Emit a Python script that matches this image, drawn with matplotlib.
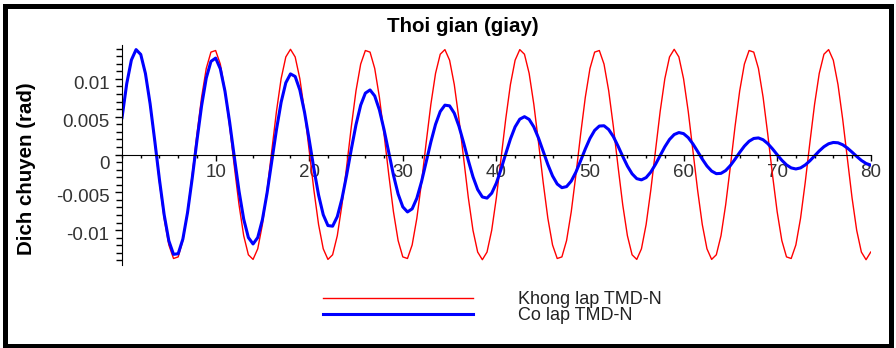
import numpy as np
import matplotlib.pyplot as plt
from matplotlib.patches import Rectangle
from matplotlib.ticker import MultipleLocator
from matplotlib.transforms import ScaledTranslation

plt.rcParams['font.family'] = ['Liberation Sans', 'DejaVu Sans']

# time axis (s), sampled every 0.5 s
time_s = np.arange(0, 80.5, 0.5)

# displacement, in milli-rad
no_tmd = [4.70, 9.25, 12.46, 13.86, 13.25, 10.73, 6.64, 1.60, -3.68, -8.43, -11.95, -13.74, -13.53, -11.37,
          -7.56, -2.65, 2.65, 7.55, 11.37, 13.53, 13.74, 11.95, 8.43, 3.69, -1.59, -6.64, -10.73, -13.25,
          -13.86, -12.46, -9.25, -4.70, 0.53, 5.69, 10.02, 12.89, 13.90, 12.89, 10.01, 5.69, 0.53,
          -4.70, -9.25, -12.46, -13.86, -13.25, -10.73, -6.64, -1.60, 3.68, 8.43, 11.95, 13.74, 13.53, 11.37,
          7.56, 2.65, -2.65, -7.55, -11.37, -13.53, -13.74, -11.95, -8.43, -3.69, 1.59, 6.64, 10.73, 13.25,
          13.86, 12.46, 9.25, 4.70, -0.53, -5.69, -10.02, -12.89, -13.90, -12.89, -10.01, -5.69, -0.53,
          4.70, 9.25, 12.46, 13.86, 13.25, 10.73, 6.64, 1.60, -3.68, -8.43, -11.95, -13.74, -13.53, -11.37,
          -7.56, -2.65, 2.65, 7.55, 11.37, 13.53, 13.74, 11.95, 8.43, 3.69, -1.59, -6.64, -10.73, -13.25,
          -13.86, -12.46, -9.25, -4.70, 0.53, 5.69, 10.02, 12.89, 13.90, 12.89, 10.01, 5.69, 0.53,
          -4.70, -9.25, -12.46, -13.86, -13.25, -10.73, -6.64, -1.60, 3.68, 8.43, 11.95, 13.74, 13.53, 11.37,
          7.56, 2.65, -2.65, -7.55, -11.37, -13.53, -13.74, -11.95, -8.43, -3.69, 1.59, 6.64, 10.73, 13.25,
          13.86, 12.46, 9.25, 4.70, -0.53, -5.69, -10.02, -12.89, -13.90, -12.89]

with_tmd = [4.87, 9.35, 12.49, 13.86, 13.22, 10.70, 6.70, 1.78, -3.34, -7.95, -11.40,
            -13.19, -13.11, -11.17, -7.67, -3.13, 1.80, 6.43, 10.10, 12.30, 12.74,
            11.33, 8.36, 4.26, -0.35, -4.83, -8.54, -10.97, -11.82, -10.97, -8.60,
            -5.07, -0.91, 3.28, 6.91, 9.48, 10.65, 10.31, 8.52, 5.58, 1.94,
            -1.89, -5.35, -7.96, -9.39, -9.47, -8.21, -5.84, -2.71, 0.71, 3.94,
            6.52, 8.11, 8.53, 7.74, 5.89, 3.26, 0.25, -2.71, -5.22, -6.92,
            -7.59, -7.18, -5.78, -3.60, -1.00, 1.66, 3.99, 5.68, 6.52, 6.43,
            5.46, 3.74, 1.55, -0.79, -2.95, -4.63, -5.61, -5.76, -5.11, -3.77,
            -1.93, 0.10, 2.05, 3.65, 4.67, 5.00, 4.64, 3.65, 2.17, 0.43,
            -1.32, -2.83, -3.90, -4.38, -4.24, -3.51, -2.32, -0.83, 0.73, 2.13,
            3.19, 3.76, 3.80, 3.30, 2.36, 1.11, -0.25, -1.53, -2.55, -3.19,
            -3.35, -3.05, -2.32, -1.30, -0.13, 1.02, 1.99, 2.64, 2.90, 2.76,
            2.23, 1.40, 0.41, -0.61, -1.52, -2.19, -2.53, -2.49, -2.12, -1.46,
            -0.62, 0.28, 1.11, 1.75, 2.12, 2.19, 1.95, 1.44, 0.75, -0.02,
            -0.76, -1.37, -1.77, -1.91, -1.77, -1.38, -0.83, -0.18, 0.47, 1.03,
            1.42, 1.59, 1.55, 1.29, 0.86, 0.32, -0.25, -0.78, -1.18, -1.40]

# milli-rad -> rad
no_tmd = [v / 1000 for v in no_tmd]
with_tmd = [v / 1000 for v in with_tmd]

x_ticks = [10, 20, 30, 40, 50, 60, 70, 80]
y_ticks = [-0.01, -0.005, 0, 0.005, 0.01]
y_tick_labels = ['-0.01', '-0.005', '0', '0.005', '0.01']
series_labels = ['Khong lap TMD-N', 'Co lap TMD-N']

fig = plt.figure(figsize=(8.96, 3.48), dpi=100)
ax = fig.add_axes([0.1362, 0.2385, 0.8356, 0.6322])

l1, = ax.plot(time_s, no_tmd, color='#ff0000', linewidth=1.0)
l2, = ax.plot(time_s, with_tmd, color='#0000ff', linewidth=2.2)

ax.set_xlim(0, 80)
ax.set_ylim(-0.0146, 0.01447)

ax.spines['top'].set_visible(False)
ax.spines['right'].set_visible(False)
ax.spines['bottom'].set_position(('data', 0))
ax.spines['left'].set_position(('data', 0))

ax.set_xticks(x_ticks)
ax.set_xticklabels([str(v) for v in x_ticks])
ax.xaxis.set_minor_locator(MultipleLocator(2))
ax.set_yticks(y_ticks)
ax.set_yticklabels(y_tick_labels)
ax.yaxis.set_minor_locator(MultipleLocator(0.001))

ax.tick_params(axis='x', which='major', direction='out', length=4, width=1, pad=3,
               labelsize=13.5, labelcolor='#333333')
ax.tick_params(axis='x', which='minor', direction='out', length=2, width=1)
ax.tick_params(axis='y', which='major', direction='out', length=5, width=1, pad=4,
               labelsize=13.5, labelcolor='#333333')
ax.tick_params(axis='y', which='minor', direction='out', length=4, width=1)

# Maple puts the y labels a bit under their ticks
for lab in ax.get_yticklabels():
    dy = -0.08 if lab.get_text() == '0' else -0.035
    lab.set_transform(lab.get_transform() + ScaledTranslation(0, dy, fig.dpi_scale_trans))

fig.text(463 / 896, 1 - 27 / 348, 'Thoi gian (giay)', ha='center', va='center',
         fontsize=14.8, fontweight='bold')
fig.text(26 / 896, 0.514, 'Dich chuyen (rad)', rotation=90, ha='center', va='center',
         fontsize=14.8, fontweight='bold')

leg = fig.legend([l1, l2], series_labels, loc='upper left', bbox_to_anchor=(322.7 / 896, 1 - 291 / 348),
                 frameon=False, fontsize=13, handlelength=8.3, handletextpad=2.5,
                 labelspacing=-0.05, borderpad=0, borderaxespad=0)
for t in leg.get_texts():
    t.set_color('#222222')

fig.patches.append(Rectangle((4.5 / 896, 2 / 348), 886 / 896, 340.5 / 348, transform=fig.transFigure,
                             fill=False, linewidth=3.6, edgecolor='black'))

fig.savefig('out.png', dpi=100)
